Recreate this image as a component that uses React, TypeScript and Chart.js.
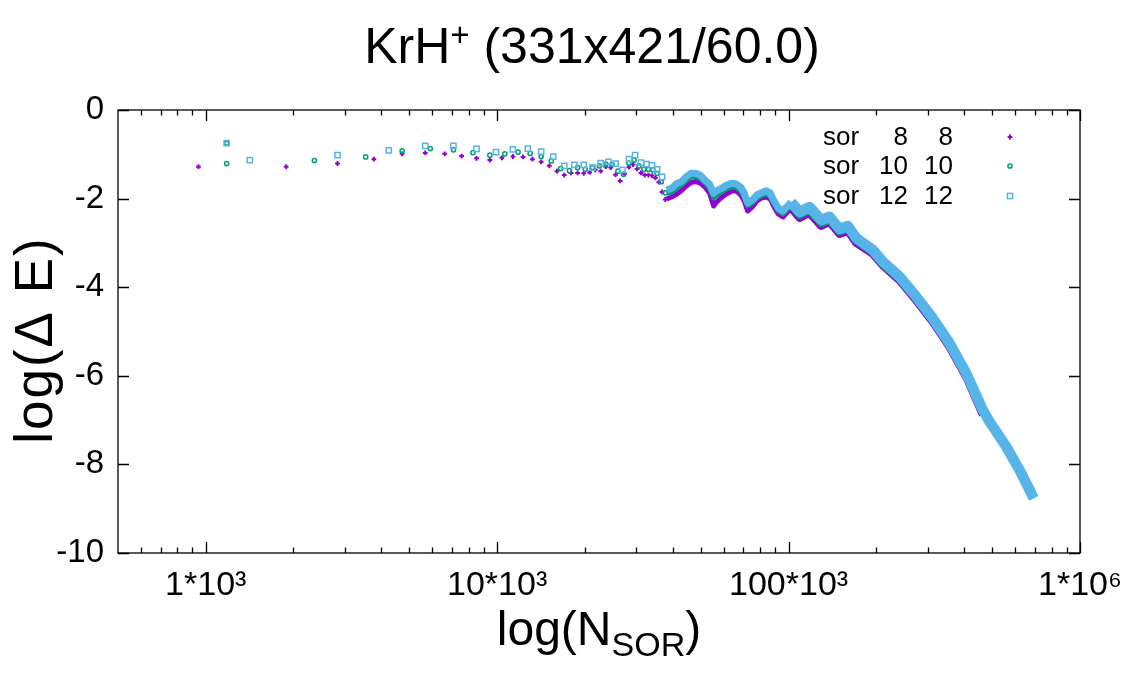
import React, { useEffect, useRef } from 'react';
import { Chart, registerables } from 'chart.js';

Chart.register(...registerables);

const FONT = '"Liberation Sans", Arial, Helvetica, sans-serif';
const PURPLE = '#9400d3';
const GREEN = '#009e73';
const BLUE = '#56b4e9';

// ---- text ----
const TITLE_MAIN = 'KrH';
const TITLE_SUP = '+';
const TITLE_REST = ' (331x421/60.0)';
const X_TITLE = 'log(N';
const X_TITLE_SUB = 'SOR';
const X_TITLE_END = ')';
const Y_TITLE = 'log(\u0394 E)';

// ---- axes ----
const X_MIN = 500;
const X_MAX = 1000000;
const Y_MIN = -10;
const Y_MAX = 0;
const Y_STEP = 2;
const X_MAJOR = [1000, 10000, 100000, 1000000];
const X_MAJOR_LABELS = ['1*10\u00b3', '10*10\u00b3', '100*10\u00b3', '1*10\u2076'];
const X_MINOR = [600, 700, 800, 900, 2000, 3000, 4000, 5000, 6000, 7000, 8000, 9000,
  20000, 30000, 40000, 50000, 60000, 70000, 80000, 90000,
  200000, 300000, 400000, 500000, 600000, 700000, 800000, 900000];

// ---- legend ----
const LEGEND_NAMES = ['sor', 'sor', 'sor'];
const LEGEND_A = ['8', '10', '12'];
const LEGEND_B = ['8', '10', '12'];

// ---- sor 8 8 (sparse markers) ----
const P_N = [944, 1888, 2832, 3776, 4720, 5664, 6608, 7552, 8496, 9440, 10384, 11328, 12272, 13216,
  14160, 15104, 16048, 16992, 17936, 18880, 19824, 20768, 21712, 22656, 23600, 24544, 25488, 26432,
  27376, 28320, 29264, 30208, 31152, 32096, 33040, 33984, 34928, 35872, 36816, 37760];
const P_E = [-1.28, -1.28, -1.21, -1.11, -0.99, -0.97, -0.99, -1.04, -1.09, -1.13, -1.08, -1.05, -1.06, -1.11,
  -1.17, -1.26, -1.38, -1.47, -1.42, -1.42, -1.43, -1.41, -1.35, -1.38, -1.28, -1.30, -1.46, -1.60,
  -1.44, -1.29, -1.23, -1.33, -1.42, -1.47, -1.47, -1.48, -1.53, -1.63, -1.85, -2.02];

// ---- sor 10 10 (sparse markers) ----
const G_N = [1180, 1180, 2360, 3540, 4720, 5900, 7080, 8260, 9440, 10620, 11800, 12980, 14160, 15340,
  16520, 17700, 18880, 20060, 21240, 22420, 23600, 24780, 25960, 27140, 28320, 29500, 30680, 31860,
  33040, 34220, 35400, 36580, 37760];
const G_E = [-0.75, -1.21, -1.14, -1.06, -0.92, -0.87, -0.90, -0.96, -1.02, -0.99, -0.95, -0.98, -1.05, -1.15,
  -1.32, -1.37, -1.30, -1.34, -1.30, -1.26, -1.22, -1.23, -1.38, -1.45, -1.20, -1.13, -1.26, -1.34,
  -1.34, -1.35, -1.43, -1.62, -1.87];

// ---- sor 12 12 (sparse markers) ----
const B_N = [1180, 1416, 2832, 4248, 5664, 7080, 8496, 9912, 11328, 12744, 14160, 15576, 16992, 18408,
  19824, 21240, 22656, 24072, 25488, 26904, 28320, 29736, 31152, 32568, 33984, 35400, 36816];
const B_E = [-0.75, -1.13, -1.02, -0.91, -0.81, -0.81, -0.88, -0.95, -0.89, -0.87, -0.94, -1.05, -1.26, -1.24,
  -1.24, -1.30, -1.20, -1.17, -1.21, -1.35, -1.11, -1.02, -1.19, -1.22, -1.25, -1.34, -1.51];

// ---- dense part (markers merge into a band) ----
const D_N = [38150, 39690, 41390, 42950, 44580, 46230, 47970, 49800, 51640, 53580, 55300, 56190, 58600,
  61150, 63760, 66170, 68620, 70470, 72330, 75080, 77860, 80800, 83850, 86540, 88820, 92180, 95590,
  102100, 109100, 118000, 129500, 138300, 149600, 159700, 170700, 194700, 210600, 240400, 274200,
  312600, 356700, 407000, 464100, 489200, 558300, 620100, 694300];
const D_B = [-1.806, -1.767, -1.655, -1.619, -1.506, -1.429, -1.429, -1.474, -1.580, -1.677, -1.880, -1.835,
  -1.777, -1.700, -1.655, -1.670, -1.745, -1.880, -2.099, -2.032, -1.919, -1.867, -1.822, -1.880, -2.032,
  -2.212, -2.280, -2.077, -2.302, -2.190, -2.483, -2.409, -2.686, -2.619, -2.889, -3.160, -3.424, -3.763,
  -4.214, -4.702, -5.266, -5.944, -6.772, -7.036, -7.600, -8.126, -8.765];
const D_G = [-1.874, -1.851, -1.761, -1.693, -1.591, -1.512, -1.501, -1.546, -1.648, -1.761, -1.986, -1.941,
  -1.862, -1.783, -1.738, -1.749, -1.828, -1.964, -2.167, -2.099, -1.986, -1.930, -1.896, -1.953, -2.099,
  -2.280, -2.348, -2.144, -2.370, -2.257, -2.551, -2.472, -2.743, -2.675, -2.946, -3.217, -3.476, -3.815,
  -4.266, -4.752, -5.316, -5.993, -6.840];
const D_P = [-2.009, -1.964, -1.896, -1.817, -1.716, -1.637, -1.614, -1.648, -1.738, -1.874, -2.167, -2.099,
  -1.986, -1.896, -1.828, -1.828, -1.919, -2.054, -2.280, -2.190, -2.054, -1.986, -1.964, -2.009, -2.167,
  -2.348, -2.415, -2.212, -2.438, -2.325, -2.619, -2.528, -2.799, -2.731, -3.002, -3.251, -3.510, -3.849,
  -4.300, -4.786, -5.350, -6.027, -6.880];

function pts(xs: number[], ys: number[]) {
  return ys.map((y, i) => ({ x: xs[i], y }));
}

function drawMarker(ctx: CanvasRenderingContext2D, kind: string, x: number, y: number, color: string) {
  ctx.save();
  ctx.strokeStyle = color;
  if (kind === 'cross') {
    ctx.lineWidth = 2;
    ctx.beginPath();
    ctx.moveTo(x - 2.4, y); ctx.lineTo(x + 2.4, y);
    ctx.moveTo(x, y - 2.4); ctx.lineTo(x, y + 2.4);
    ctx.stroke();
  } else if (kind === 'circle') {
    ctx.lineWidth = 1.5;
    ctx.beginPath();
    ctx.arc(x, y, 2.1, 0, Math.PI * 2);
    ctx.stroke();
  } else {
    ctx.lineWidth = 1.5;
    ctx.strokeRect(x - 2.6, y - 2.6, 5.2, 5.2);
  }
  ctx.restore();
}

const gnuplotLook = {
  id: 'gnuplotLook',
  beforeDatasetsDraw(chart: any) {
    const ctx: CanvasRenderingContext2D = chart.ctx;
    const { left, right, top, bottom } = chart.chartArea;
    const xs = chart.scales.x;
    const ys = chart.scales.y;
    ctx.save();
    ctx.strokeStyle = '#000';
    ctx.lineWidth = 1.3;
    ctx.strokeRect(left, top, right - left, bottom - top);
    ctx.beginPath();
    const major = 11;
    const minor = 5.5;
    X_MAJOR.forEach((v) => {
      const px = Math.round(xs.getPixelForValue(v)) + 0.5;
      ctx.moveTo(px, bottom); ctx.lineTo(px, bottom - major);
      ctx.moveTo(px, top); ctx.lineTo(px, top + major);
    });
    X_MINOR.forEach((v) => {
      const px = Math.round(xs.getPixelForValue(v)) + 0.5;
      ctx.moveTo(px, bottom); ctx.lineTo(px, bottom - minor);
      ctx.moveTo(px, top); ctx.lineTo(px, top + minor);
    });
    for (let v = Y_MIN; v <= Y_MAX; v += Y_STEP) {
      const py = Math.round(ys.getPixelForValue(v)) + 0.5;
      ctx.moveTo(left, py); ctx.lineTo(left + major, py);
      ctx.moveTo(right, py); ctx.lineTo(right - major, py);
    }
    ctx.stroke();
    ctx.restore();
  },
  afterDraw(chart: any) {
    const ctx: CanvasRenderingContext2D = chart.ctx;
    ctx.save();
    ctx.fillStyle = '#000';
    ctx.textBaseline = 'alphabetic';
    ctx.textAlign = 'left';

    // title
    const big = '50px ' + FONT;
    const sup = '33px ' + FONT;
    ctx.font = big;
    const w1 = ctx.measureText(TITLE_MAIN).width;
    const w3 = ctx.measureText(TITLE_REST).width;
    ctx.font = sup;
    const w2 = ctx.measureText(TITLE_SUP).width;
    let x = 592 - (w1 + w2 + w3) / 2;
    ctx.font = big;
    ctx.fillText(TITLE_MAIN, x, 63);
    x += w1;
    ctx.font = sup;
    ctx.fillText(TITLE_SUP, x, 46);
    x += w2;
    ctx.font = big;
    ctx.fillText(TITLE_REST, x, 63);

    // x title
    const axf = '48px ' + FONT;
    const subf = '34px ' + FONT;
    ctx.font = axf;
    const a1 = ctx.measureText(X_TITLE).width;
    const a3 = ctx.measureText(X_TITLE_END).width;
    ctx.font = subf;
    const a2 = ctx.measureText(X_TITLE_SUB).width;
    x = 599 - (a1 + a2 + a3) / 2;
    ctx.font = axf;
    ctx.fillText(X_TITLE, x, 645);
    x += a1;
    ctx.font = subf;
    ctx.fillText(X_TITLE_SUB, x, 656);
    x += a2;
    ctx.font = axf;
    ctx.fillText(X_TITLE_END, x, 645);

    // y title
    ctx.save();
    ctx.translate(52, 340);
    ctx.rotate(-Math.PI / 2);
    ctx.font = '53px ' + FONT;
    (ctx as any).letterSpacing = '2px';
    ctx.textAlign = 'center';
    ctx.fillText(Y_TITLE, 0, 0);
    ctx.restore();

    // legend
    const rows = [138, 167, 197];
    const kinds = ['cross', 'circle', 'square'];
    const cols = [PURPLE, GREEN, BLUE];
    ctx.font = '26px ' + FONT;
    ctx.textBaseline = 'middle';
    rows.forEach((ry, i) => {
      ctx.textAlign = 'left';
      ctx.fillText(LEGEND_NAMES[i], 823, ry);
      ctx.textAlign = 'right';
      ctx.fillText(LEGEND_A[i], 908, ry);
      ctx.fillText(LEGEND_B[i], 953, ry);
      drawMarker(ctx, kinds[i], 1010, ry - 1, cols[i]);
    });
    ctx.restore();
  },
};

export default function App() {
  const ref = useRef<HTMLCanvasElement>(null);
  useEffect(() => {
    document.body.style.margin = '0';
    const canvas = ref.current;
    if (!canvas) return;
    const transparent = 'rgba(0,0,0,0)';
    const thin = (w1: number, w2: number) => (c: any) => (c.p0.parsed.x < 100000 ? w1 : w2);
    const chart = new Chart(canvas, {
      type: 'scatter',
      data: {
        datasets: [
          {
            label: 'sor 12 12', data: pts(B_N, B_E), showLine: false, order: 0,
            pointStyle: 'rect', pointRadius: 3.7, pointBorderWidth: 1.5,
            pointBorderColor: BLUE, pointBackgroundColor: transparent,
          },
          {
            label: 'sor 12 12 dense', data: pts(D_N, D_B), showLine: true, order: 1,
            borderColor: BLUE, borderWidth: 10, pointRadius: 0, tension: 0,
            borderJoinStyle: 'round', borderCapStyle: 'butt',
            segment: { borderWidth: thin(7, 10.5) },
          },
          {
            label: 'sor 10 10', data: pts(G_N, G_E), showLine: false, order: 2,
            pointStyle: 'circle', pointRadius: 2.1, pointBorderWidth: 1.5,
            pointBorderColor: GREEN, pointBackgroundColor: transparent,
          },
          {
            label: 'sor 10 10 dense', data: pts(D_N, D_G), showLine: true, order: 3,
            borderColor: GREEN, borderWidth: 8, pointRadius: 0, tension: 0,
            borderJoinStyle: 'round', borderCapStyle: 'butt',
            segment: { borderWidth: thin(5, 8) },
          },
          {
            label: 'sor 8 8', data: pts(P_N, P_E), showLine: false, order: 4,
            pointStyle: 'cross', pointRadius: 2.4, pointBorderWidth: 2,
            pointBorderColor: PURPLE, pointBackgroundColor: PURPLE,
          },
          {
            label: 'sor 8 8 dense', data: pts(D_N, D_P), showLine: true, order: 5,
            borderColor: PURPLE, borderWidth: 8, pointRadius: 0, tension: 0,
            borderJoinStyle: 'round', borderCapStyle: 'butt',
            segment: { borderWidth: thin(5, 8) },
          },
        ],
      } as any,
      options: {
        responsive: false,
        animation: false,
        events: [],
        layout: { padding: { top: 110, right: 49, left: 0, bottom: 0 } },
        plugins: { legend: { display: false }, tooltip: { enabled: false }, title: { display: false } },
        scales: {
          x: {
            type: 'logarithmic',
            min: X_MIN,
            max: X_MAX,
            afterBuildTicks: (scale: any) => {
              scale.ticks = X_MAJOR.map((v) => ({ value: v }));
            },
            afterFit: (scale: any) => {
              scale.height = 125;
              scale.paddingLeft = 0;
              scale.paddingRight = 0;
            },
            grid: { display: false, drawTicks: false },
            border: { display: false },
            ticks: {
              autoSkip: false,
              maxRotation: 0,
              padding: 12,
              color: '#000',
              font: { family: FONT, size: 34 },
              callback: (v: any) => {
                const i = X_MAJOR.indexOf(Number(v));
                return i >= 0 ? X_MAJOR_LABELS[i] : '';
              },
            },
          },
          y: {
            type: 'linear',
            min: Y_MIN,
            max: Y_MAX,
            afterFit: (scale: any) => {
              scale.width = 118;
              scale.paddingTop = 0;
              scale.paddingBottom = 0;
            },
            grid: { display: false, drawTicks: false },
            border: { display: false },
            ticks: {
              stepSize: Y_STEP,
              padding: 14,
              color: '#000',
              font: { family: FONT, size: 33 },
              callback: (v: any) => String(v),
            },
          },
        },
      } as any,
      plugins: [gnuplotLook],
    });
    return () => chart.destroy();
  }, []);
  return <canvas ref={ref} width={1129} height={678} style={{ display: 'block', width: 1129, height: 678 }} />;
}
